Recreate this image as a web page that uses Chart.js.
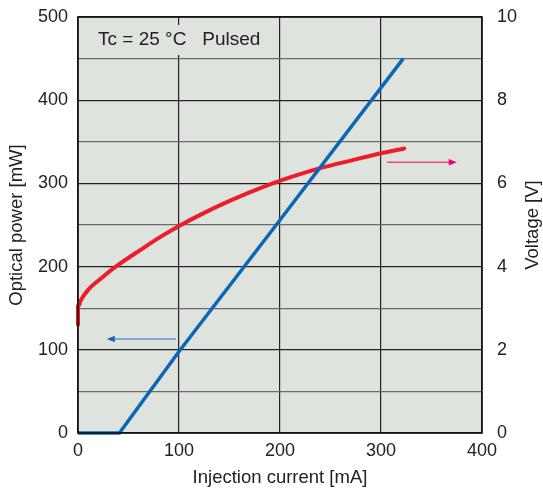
<!DOCTYPE html>
<html>
<head>
<meta charset="utf-8">
<script src="https://cdn.jsdelivr.net/npm/chart.js@4"></script>
<style>
    html, body { margin: 0; padding: 0; background: #fff; }
    #wrap { width: 543px; height: 491px; }
</style>
</head>
<body>
<div id="wrap"><canvas id="ivChart"></canvas></div>
<script>
// Optical power vs injection current (left axis)
const powerCurrent = [0, 41, 100, 200, 322];
const powerValues = [0, 0, 98, 256, 450];

// Voltage vs injection current (right axis)
const voltageCurrent = [0, 0, 3, 10, 23, 38, 63, 82, 101, 124, 157, 201, 239, 272, 301, 323];
const voltageValues = [2.6, 3.04, 3.2, 3.44, 3.72, 4.01, 4.42, 4.72, 4.99, 5.28, 5.65, 6.07, 6.36, 6.56, 6.73, 6.84];

// Axis ranges / ticks
const currentTicks = [0, 100, 200, 300, 400];
const powerTicks = [0, 100, 200, 300, 400, 500];
const voltageTicks = [0, 2, 4, 6, 8, 10];

const plotBg = '#dfe3de';
const fontFamily = '"Liberation Sans", Arial, sans-serif';

const toPoints = (xs, ys) => xs.map((x, i) => ({ x: x, y: ys[i] }));

function drawArrow(ctx, x1, y1, x2, y2, lineColor, headColor) {
    const dir = Math.sign(x2 - x1);
    ctx.save();
    ctx.strokeStyle = lineColor;
    ctx.lineWidth = 1.6;
    ctx.beginPath();
    ctx.moveTo(x1, y1);
    ctx.lineTo(x2 - dir * 6, y2);
    ctx.stroke();
    ctx.fillStyle = headColor;
    ctx.beginPath();
    ctx.moveTo(x2, y2);
    ctx.lineTo(x2 - dir * 8, y2 - 3.3);
    ctx.lineTo(x2 - dir * 8, y2 + 3.3);
    ctx.closePath();
    ctx.fill();
    ctx.restore();
}

const plotDecor = {
    id: 'plotDecor',
    beforeDraw(chart) {
        const { ctx, chartArea: a } = chart;
        ctx.save();
        ctx.fillStyle = plotBg;
        ctx.fillRect(a.left, a.top, a.right - a.left, a.bottom - a.top);
        ctx.restore();
    },
    beforeDatasetsDraw(chart) {
        const { ctx, chartArea: a } = chart;
        // note box covers grid
        ctx.save();
        ctx.fillStyle = plotBg;
        ctx.fillRect(a.left + 14, a.top + 8, 170, 30);
        ctx.fillStyle = '#222';
        ctx.font = '19px ' + fontFamily;
        ctx.textBaseline = 'middle';
        ctx.fillText('Tc = 25 °C   Pulsed', a.left + 20, a.top + 23);
        ctx.restore();
    },
    afterDraw(chart) {
        const { ctx, chartArea: a, scales } = chart;
        const x = scales.x, yP = scales.yPower, yV = scales.yVoltage;

        drawArrow(ctx, x.getPixelForValue(97), yP.getPixelForValue(113),
            x.getPixelForValue(28.5), yP.getPixelForValue(113), '#5b97d0', '#1a67b6');
        drawArrow(ctx, x.getPixelForValue(306), yV.getPixelForValue(6.51),
            x.getPixelForValue(375), yV.getPixelForValue(6.51), '#ee4a72', '#e6007e');

        // plot frame
        ctx.save();
        ctx.strokeStyle = '#111';
        ctx.lineWidth = 1.6;
        ctx.strokeRect(a.left, a.top, a.right - a.left, a.bottom - a.top);
        ctx.restore();

        // right axis title, reading bottom to top
        ctx.save();
        ctx.translate(533, (a.top + a.bottom) / 2);
        ctx.rotate(-Math.PI / 2);
        ctx.fillStyle = '#222';
        ctx.font = '18.5px ' + fontFamily;
        ctx.textAlign = 'center';
        ctx.textBaseline = 'middle';
        ctx.fillText('Voltage [V]', 0, 0);
        ctx.restore();
    }
};

new Chart(document.getElementById('ivChart'), {
    type: 'line',
    data: {
        datasets: [
            {
                label: 'Optical power',
                data: toPoints(powerCurrent, powerValues),
                yAxisID: 'yPower',
                borderColor: '#0a67b4',
                borderWidth: 3.5,
                pointRadius: 0,
                tension: 0,
                clip: 6
            },
            {
                label: 'Voltage',
                data: toPoints(voltageCurrent, voltageValues),
                yAxisID: 'yVoltage',
                borderColor: '#ec1c2a',
                borderWidth: 4,
                borderCapStyle: 'round',
                pointRadius: 0,
                cubicInterpolationMode: 'monotone',
                clip: 6
            }
        ]
    },
    options: {
        responsive: true,
        maintainAspectRatio: false,
        animation: false,
        layout: { padding: { top: 17 } },
        plugins: {
            legend: { display: false },
            tooltip: { enabled: false }
        },
        scales: {
            x: {
                type: 'linear',
                min: currentTicks[0],
                max: currentTicks[currentTicks.length - 1],
                afterBuildTicks: s => { s.ticks = currentTicks.map(v => ({ value: v })); },
                afterFit: s => { s.height = 58; },
                border: { display: false },
                grid: { color: '#222', lineWidth: 1.2, drawTicks: false },
                ticks: { padding: 7, color: '#222', font: { size: 18, family: fontFamily } },
                title: {
                    display: true,
                    text: 'Injection current [mA]',
                    color: '#222',
                    font: { size: 18.5, family: fontFamily },
                    padding: { top: 0, bottom: 2 }
                }
            },
            yPower: {
                type: 'linear',
                position: 'left',
                min: 0,
                max: 500,
                afterBuildTicks: s => {
                    const t = [];
                    for (let v = 0; v <= 500; v += 50) t.push({ value: v });
                    s.ticks = t;
                },
                afterFit: s => { s.width = 78; s.paddingTop = 0; s.paddingBottom = 0; },
                border: { display: false },
                grid: {
                    drawTicks: false,
                    lineWidth: 1.2,
                    color: c => (c.tick && c.tick.value % 100 === 0) ? '#222' : '#6a6a6a'
                },
                ticks: {
                    autoSkip: false,
                    padding: 10,
                    color: '#222',
                    font: { size: 18, family: fontFamily },
                    callback: v => powerTicks.includes(v) ? v : ''
                },
                title: {
                    display: true,
                    text: 'Optical power [mW]',
                    color: '#222',
                    font: { size: 18.5, family: fontFamily },
                    padding: { top: 6, bottom: 0 }
                }
            },
            yVoltage: {
                type: 'linear',
                position: 'right',
                min: voltageTicks[0],
                max: voltageTicks[voltageTicks.length - 1],
                afterBuildTicks: s => { s.ticks = voltageTicks.map(v => ({ value: v })); },
                afterFit: s => { s.width = 61; s.paddingTop = 0; s.paddingBottom = 0; },
                border: { display: false },
                grid: { display: false, drawTicks: false },
                ticks: { padding: 15, color: '#222', font: { size: 18, family: fontFamily } },
                title: { display: false }
            }
        }
    },
    plugins: [plotDecor]
});
</script>
</body>
</html>
